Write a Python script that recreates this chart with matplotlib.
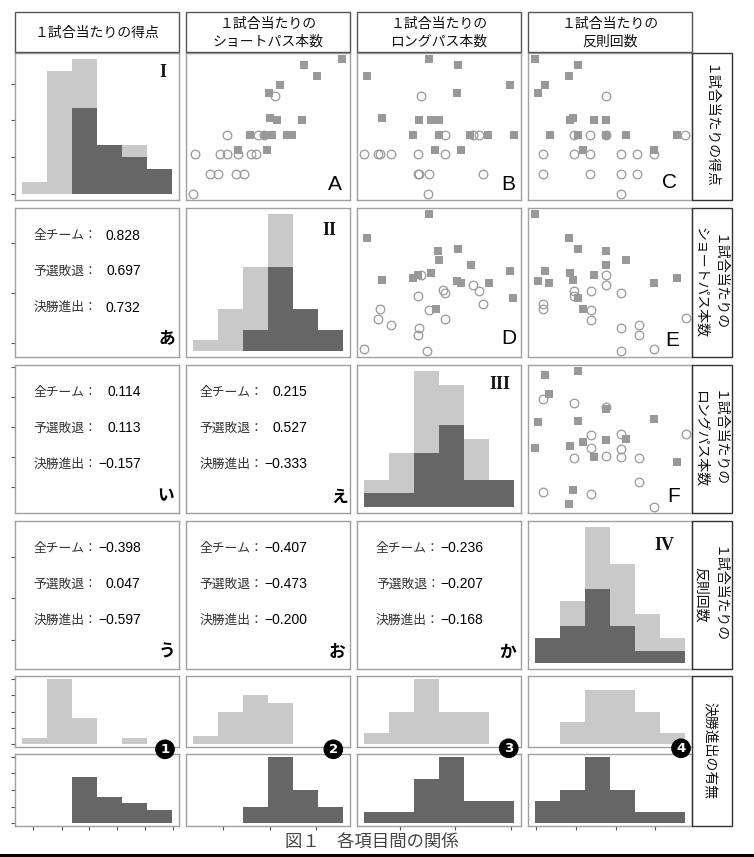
import numpy as np
import matplotlib
matplotlib.use("Agg")
import matplotlib.pyplot as plt
from matplotlib.patches import Rectangle

plt.rcParams['font.family'] = ['Noto Sans CJK JP', 'DejaVu Sans']

W, H = 754, 857

# ---- data ----
var_names = ["score", "short", "long", "fouls"]
var_ranges = {"score": (0.0, 2.29), "short": (200, 500), "long": (50, 80), "fouls": (10, 22)}

header_texts = ["１試合当たりの得点", "１試合当たりの\nショートパス本数",
                "１試合当たりの\nロングパス本数", "１試合当たりの\n反則回数"]
row_labels = ["１試合当たりの得点", "１試合当たりの\nショートパス本数",
              "１試合当たりの\nロングパス本数", "１試合当たりの\n反則回数", "決勝進出の有無"]

# histogram counts, 6 bins (予選敗退 / 決勝進出)
out_counts = {"score": [1, 10, 4, 0, 1, 0], "short": [1, 4, 6, 5, 0, 0],
              "long": [1, 3, 6, 3, 3, 0], "fouls": [0, 2, 5, 5, 3, 1]}
adv_counts = {"score": [0, 0, 7, 4, 3, 2], "short": [0, 0, 2, 8, 4, 2],
              "long": [1, 1, 4, 6, 2, 2], "fouls": [2, 3, 6, 3, 1, 1]}

# correlation coefficients (全チーム, 予選敗退, 決勝進出)
group_names = ["全チーム：", "予選敗退：", "決勝進出："]
corr_1_0 = [0.828, 0.697, 0.732]
corr_2_0 = [0.114, 0.113, -0.157]
corr_2_1 = [0.215, 0.527, -0.333]
corr_3_0 = [-0.398, 0.047, -0.597]
corr_3_1 = [-0.407, -0.473, -0.200]
corr_3_2 = [-0.236, -0.207, -0.168]

# scatter A: short pass vs score
a_adv_x = [499, 422, 448, 375, 352, 355, 369, 419, 315, 344, 352, 359, 389, 399, 291, 349]
a_adv_y = [2.29, 2.2, 2.0, 1.86, 1.71, 1.29, 1.25, 1.25, 1.0, 1.0, 1.0, 1.0, 1.0, 1.0, 0.75, 0.75]
a_out_x = [365, 269, 331, 343, 204, 255, 268, 291, 317, 327, 234, 250, 287, 303, 200]
a_out_y = [1.67, 1.0, 1.0, 1.0, 0.67, 0.67, 0.67, 0.67, 0.67, 0.67, 0.33, 0.33, 0.33, 0.33, 0.0]
# scatter B: long pass vs score
b_adv_x = [62.9, 68.9, 50.5, 79.2, 68.7, 53.5, 60.9, 63.4, 64.9, 59.7, 65.0, 71.3, 74.9, 80.0, 64.2, 69.4]
b_adv_y = [2.29, 2.2, 2.0, 1.86, 1.71, 1.29, 1.25, 1.25, 1.25, 1.0, 1.0, 1.0, 1.0, 1.0, 0.75, 0.75]
b_out_x = [61.3, 66.3, 71.9, 73.1, 50.0, 52.8, 53.1, 55.3, 60.7, 66.3, 60.7, 61.0, 62.9, 73.8, 62.7]
b_out_y = [1.67, 1.0, 1.0, 1.0, 0.67, 0.67, 0.67, 0.67, 0.67, 0.67, 0.33, 0.33, 0.33, 0.33, 0.0]
# scatter C: fouls vs score
c_adv_x = [10.0, 13.4, 12.7, 10.8, 10.2, 13.0, 12.8, 14.7, 15.7, 11.2, 13.4, 15.7, 17.3, 21.4, 13.8, 19.5]
c_adv_y = [2.29, 2.2, 2.0, 1.86, 1.71, 1.29, 1.25, 1.25, 1.25, 1.0, 1.0, 1.0, 1.0, 1.0, 0.75, 0.75]
c_out_x = [15.7, 13.1, 14.4, 15.7, 22.0, 10.6, 13.1, 14.4, 16.9, 18.2, 19.5, 10.6, 14.4, 16.9, 18.2, 16.9]
c_out_y = [1.67, 1.0, 1.0, 1.0, 1.0, 0.67, 0.67, 0.67, 0.67, 0.67, 0.67, 0.33, 0.33, 0.33, 0.33, 0.0]
# scatter D: long pass vs short pass
d_adv_x = [62.9, 50.5, 64.7, 68.9, 65.1, 71.5, 63.4, 79.2, 53.5, 59.7, 60.7, 68.6, 69.5, 75.0, 79.9, 64.3]
d_adv_y = [500, 449, 419, 423, 400, 389, 371, 375, 355, 359, 367, 353, 349, 350, 316, 292]
d_out_x = [61.4, 71.9, 73.0, 65.8, 66.3, 60.7, 73.9, 53.1, 62.9, 52.8, 66.3, 55.3, 60.9, 60.7, 49.9, 62.6]
d_out_y = [367, 345, 331, 333, 327, 320, 303, 292, 289, 269, 270, 257, 250, 235, 204, 200]
# scatter E: fouls vs short pass
e_adv_x = [10.0, 12.7, 13.4, 15.7, 15.7, 17.3, 10.8, 12.8, 14.7, 10.2, 11.1, 13.0, 19.5, 21.4, 13.4, 13.8]
e_adv_y = [500, 449, 423, 419, 389, 400, 375, 371, 367, 353, 350, 356, 349, 359, 316, 292]
e_out_x = [15.7, 15.7, 14.5, 16.9, 13.1, 13.1, 10.6, 10.6, 14.5, 14.5, 22.1, 18.3, 16.9, 18.3, 16.9, 19.5]
e_out_y = [367, 345, 332, 327, 331, 321, 303, 292, 289, 268, 271, 257, 250, 235, 200, 204]
# scatter F: fouls vs long pass
f_adv_x = [10.8, 13.4, 11.1, 15.7, 19.5, 10.2, 13.4, 17.3, 15.7, 13.8, 12.8, 10.0, 14.7, 21.4, 13.0, 12.7]
f_adv_y = [79.2, 80.0, 74.9, 71.6, 69.5, 68.7, 68.9, 65.1, 64.8, 64.3, 63.5, 62.9, 61.0, 59.8, 53.6, 50.5]
f_out_x = [10.6, 13.1, 15.7, 22.1, 14.5, 16.9, 14.5, 16.9, 13.1, 15.7, 16.9, 18.3, 18.3, 10.6, 14.5, 19.5]
f_out_y = [73.9, 73.0, 72.1, 66.2, 65.9, 66.2, 62.9, 62.7, 60.8, 61.3, 61.0, 60.8, 55.4, 53.3, 52.9, 50.0]

# bottom tick positions (per column variable)
bottom_ticks = {"score": [0.17, 0.61, 1.03, 1.45, 1.88, 2.30], "short": [260, 354, 447],
                "long": [57.1, 68.3, 79.5], "fouls": [10.1, 13.3, 16.5, 19.6]}

# ---- layout (pixels) ----
col_px = [(14.5, 179), (185.5, 350), (357, 521), (528, 692)]
row_px = [(53, 200), (208, 357), (365, 513), (521, 669)]
row5a_px = (676, 747)
row5b_px = (754, 826)
lab_px = (692, 732)

light = "#c9c9c9"
dark = "#666666"
mark_gray = "#999999"
frame = "#a0a0a0"

fig = plt.figure(figsize=(W / 100, H / 100), dpi=100)
fig.patch.set_facecolor("white")


def add_ax(xr, yr):
    x0, x1 = xr
    y0, y1 = yr
    ax = fig.add_axes([x0 / W, 1 - y1 / H, (x1 - x0) / W, (y1 - y0) / H])
    ax.set_xticks([])
    ax.set_yticks([])
    for s in ax.spines.values():
        s.set_color(frame)
        s.set_linewidth(1.0)
    ax.tick_params(length=3, width=0.8, color="#555555", labelleft=False, labelbottom=False)
    return ax


def expand(r, f=0.047):
    lo, hi = r
    d = hi - lo
    return lo - f * d, hi + f * d


def fig_box(xr, yr, ec="#555555"):
    x0, x1 = xr
    y0, y1 = yr
    fig.add_artist(Rectangle((x0 / W, 1 - y1 / H), (x1 - x0) / W, (y1 - y0) / H,
                             transform=fig.transFigure, fill=False, ec=ec, lw=1.0))


def ftext(x, y, s, **kw):
    fig.text(x / W, 1 - y / H, s, ha="center", va="center", **kw)


def fmt(v):
    return ("%.3f" % v).replace("-", "\u2212")


scatters = {(0, 1): (a_adv_x, a_adv_y, a_out_x, a_out_y),
            (0, 2): (b_adv_x, b_adv_y, b_out_x, b_out_y),
            (0, 3): (c_adv_x, c_adv_y, c_out_x, c_out_y),
            (1, 2): (d_adv_x, d_adv_y, d_out_x, d_out_y),
            (1, 3): (e_adv_x, e_adv_y, e_out_x, e_out_y),
            (2, 3): (f_adv_x, f_adv_y, f_out_x, f_out_y)}
corrs = {(1, 0): corr_1_0, (2, 0): corr_2_0, (2, 1): corr_2_1,
         (3, 0): corr_3_0, (3, 1): corr_3_1, (3, 2): corr_3_2}
label_x = [0.114, 0.084, 0.115]
value_x = [0.767, 0.739, 0.768]
text_y = [0.815, 0.575, 0.33]
left_ticks = [None, [0.096, 0.432, 0.767], [0.176, 0.378, 0.581, 0.784, 0.986], [0.196, 0.478, 0.759]]

# headers
for c, t in enumerate(header_texts):
    fig_box(col_px[c], (12, 52))
    ftext(sum(col_px[c]) / 2, 32.5, t, fontsize=10, linespacing=1.35, color="#111111")

# matrix
for r in range(4):
    for c in range(4):
        ax = add_ax(col_px[c], row_px[r])
        vx = var_names[c]
        vy = var_names[r]
        if r == c:
            lo, hi = var_ranges[vx]
            edges = np.linspace(lo, hi, 7)
            adv = np.array(adv_counts[vx])
            out = np.array(out_counts[vx])
            m = (adv + out).max()
            ax.bar(edges[:-1], adv, width=edges[1] - edges[0], align="edge", color=dark, lw=0)
            ax.bar(edges[:-1], out, bottom=adv, width=edges[1] - edges[0], align="edge", color=light, lw=0)
            ax.set_xlim(expand(var_ranges[vx]))
            ax.set_ylim(-0.045 * m, 1.045 * m)
            if c == 0:
                ax.set_yticks([0, 3, 6, 9])
        elif r < c:
            ax_x, ax_y, ox, oy = scatters[(r, c)]
            ax.plot(ax_x, ax_y, ls="none", marker="s", ms=5.8, mfc=mark_gray, mec=mark_gray, mew=0)
            ax.plot(ox, oy, ls="none", marker="o", ms=6.2, mfc="none", mec=mark_gray, mew=0.9)
            ax.set_xlim(expand(var_ranges[vx]))
            ax.set_ylim(expand(var_ranges[vy]))
        else:
            ax.set_xlim(0, 1)
            ax.set_ylim(0, 1)
            vals = corrs[(r, c)]
            for i in range(3):
                ax.text(label_x[c], text_y[i], group_names[i], transform=ax.transAxes,
                        ha="left", va="center", fontsize=9.2, color="#333333")
                ax.text(value_x[c], text_y[i], fmt(vals[i]), transform=ax.transAxes,
                        ha="right", va="center", fontsize=10, color="black",
                        family=["Liberation Sans", "DejaVu Sans"])
            if c == 0:
                ax.set_yticks(left_ticks[r])

# bottom rows: 予選敗退 (light) and 決勝進出 (dark)
for c in range(4):
    v = var_names[c]
    lo, hi = var_ranges[v]
    edges = np.linspace(lo, hi, 7)
    out = np.array(out_counts[v])
    adv = np.array(adv_counts[v])
    m = max(out.max(), adv.max())
    ax5a = add_ax(col_px[c], row5a_px)
    ax5a.bar(edges[:-1], out, width=edges[1] - edges[0], align="edge", color=light, lw=0)
    ax5b = add_ax(col_px[c], row5b_px)
    ax5b.bar(edges[:-1], adv, width=edges[1] - edges[0], align="edge", color=dark, lw=0)
    for a in (ax5a, ax5b):
        a.set_xlim(expand(var_ranges[v]))
        a.set_ylim(-0.045 * m, 1.045 * m)
        if c == 0:
            a.set_yticks([0, 2.5, 5, 7.5, 10])
    ax5b.set_xticks(bottom_ticks[v])

# right-hand row labels
for r in range(4):
    fig_box(lab_px, row_px[r], ec="#333333")
    ftext(709.5, sum(row_px[r]) / 2, row_labels[r], rotation=-90, fontsize=10,
          linespacing=1.35, multialignment="center", color="#111111")
fig_box(lab_px, (row5a_px[0], row5b_px[1]), ec="#333333")
ftext(710, (row5a_px[0] + row5b_px[1]) / 2, row_labels[4], rotation=-90, fontsize=10, color="#111111")

# panel marks
roman = [("I", 163.3, 72.7), ("II", 329.3, 230.7), ("III", 499.7, 385), ("IV", 664.3, 545)]
for s, x, y in roman:
    ftext(x, y, s, fontsize=13, fontweight="bold", family=["Liberation Serif"], color="#111111")
letters = [("A", 335, 185), ("B", 508.7, 185), ("C", 669.3, 182.7),
           ("D", 508.7, 338.3), ("E", 672, 340), ("F", 673.7, 496.7)]
for s, x, y in letters:
    ftext(x, y, s, fontsize=15, family=["Liberation Sans"], color="black")
kana = [("あ", 166.7, 338.3), ("い", 165.7, 495), ("え", 340, 496.7),
        ("う", 166.7, 651.7), ("お", 337.3, 651.7), ("か", 507, 651.7)]
for s, x, y in kana:
    ftext(x, y, s, fontsize=12, fontweight="bold", color="black")
circled = [("1", 165, 749.3), ("2", 333.3, 749.3), ("3", 508.7, 748.3), ("4", 681, 748.3)]
for s, x, y in circled:
    ftext(x, y, s, fontsize=9.5, fontweight="bold", color="white", family=["DejaVu Sans"],
          bbox=dict(boxstyle="circle,pad=0.2", fc="black", ec="black"))

# caption
ftext(372, 843, "図１　各項目間の関係", fontsize=12.5, color="#444444")

# dark strip at the bottom edge of the scan
fig.add_artist(Rectangle((0, 0), 1, 3 / H, transform=fig.transFigure, color="black", lw=0))

fig.savefig("out.png", dpi=100)
